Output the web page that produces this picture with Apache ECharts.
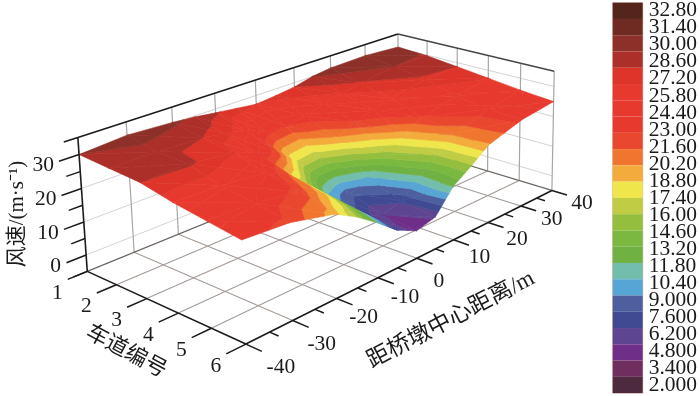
<!DOCTYPE html>
<html><head><meta charset="utf-8">
<style>html,body{margin:0;padding:0;background:#fff}#c{width:700px;height:396px}</style>
<script src="https://cdn.jsdelivr.net/npm/echarts@6/dist/echarts.min.js"></script>
</head><body><div id="c"></div>
<script>
// ---- data ----
const laneTicks = [1,2,3,4,5,6];
const distTicks = [-40,-30,-20,-10,0,10,20,30,40];
const speedTicks = [0,10,20,30];
const distSamples = [-40,-30,-20,-15,-10,-5,0,5,10,15,20,30,40];
const lane1 = [30.0,31.0,30.3,29.7,28.8,28.0,27.2,27.8,28.6,30.1,30.9,31.2,30.4];
const lane2 = [29.3,29.2,28.6,27.8,26.3,23.6,23.0,24.0,26.0,27.2,28.4,30.0,29.8];
const lane3 = [28.6,28.9,27.3,25.0,22.4,17.2,16.5,20.0,22.8,24.6,26.2,28.3,28.6];
const lane4 = [26.5,26.0,24.5,21.6,15.5,10.0,8.0,10.0,15.5,19.6,22.8,25.5,27.3];
const lane5 = [25.0,24.5,22.5,19.5,14.0,7.0,4.8,6.5,11.5,16.2,20.5,24.0,26.0];
const lane6 = [23.5,22.6,19.5,16.0,11.5,6.5,3.5,5.0,12.0,15.8,20.0,23.5,25.0];
const scaleLabels = ['32.80','31.40','30.00','28.60','27.20','25.80','24.40','23.00','21.60','20.20','18.80','17.40','16.00','14.60','13.20','11.80','10.40','9.000','7.600','6.200','4.800','3.400','2.000'];
const scaleColors = ['#55241c','#6f2b22','#8d3029','#ad2f29','#dd3529','#e8392e','#e8392e','#e8392e','#e9482e','#f0762f','#f3ab3b','#efe64b','#c0cd44','#94bf3e','#7ab83f','#70b143','#72bdab','#57a5d4','#4d5f9f','#3f4a93','#5d4591','#6f2f88','#702e5e','#4d2a3e'];
const lanes = [lane1,lane2,lane3,lane4,lane5,lane6];

// ---- camera: fitted to the corners of the 3D axis box ----
const zMin=-5, zMax=35;
const boxFit = [
  [0,0,0, 87,270],[0,1,0,246,345],[1,1,0,552,189],[1,0,0,399,146],
  [0,0,1, 78,138],[1,0,1,398,33],[1,1,1,554,72]
];
function solve(A,b){const n=b.length;const M=A.map((r,i)=>r.concat(b[i]));
  for(let i=0;i<n;i++){let p=i;for(let k=i+1;k<n;k++)if(Math.abs(M[k][i])>Math.abs(M[p][i]))p=k;[M[i],M[p]]=[M[p],M[i]];
    for(let k=0;k<n;k++){if(k===i)continue;const f=M[k][i]/M[i][i];for(let c=i;c<=n;c++)M[k][c]-=f*M[i][c];}}
  return M.map((r,i)=>r[n]/r[i]);}
const cam=(function(){const R=[],S=[];
  boxFit.forEach(([u,v,w,sx,sy])=>{
    R.push([u,v,w,1,0,0,0,0,-sx*u,-sx*v,-sx*w]);S.push(sx);
    R.push([0,0,0,0,u,v,w,1,-sy*u,-sy*v,-sy*w]);S.push(sy);});
  const N=R[0].length,A=[],b=[];
  for(let i=0;i<N;i++){A.push([]);let s=0;for(let j=0;j<N;j++){let t=0;R.forEach(r=>t+=r[i]*r[j]);A[i].push(t);}
    R.forEach((r,k)=>s+=r[i]*S[k]);b.push(s);}
  return solve(A,b);})();
function project(dist,lane,speed){
  const u=(dist+40)/80,v=(lane-1)/5,w=(speed-zMin)/(zMax-zMin);
  const d=cam[8]*u+cam[9]*v+cam[10]*w+1;
  return [(cam[0]*u+cam[1]*v+cam[2]*w+cam[3])/d,(cam[4]*u+cam[5]*v+cam[6]*w+cam[7])/d];
}

// ---- contour bands of the surface ----
const bounds=scaleLabels.map(Number).reverse(); // ascending 2.0 .. 32.8
function colorOf(idx){return scaleColors[scaleColors.length-1-idx];}
function clip(poly,val,keepAbove){const out=[];
  for(let i=0;i<poly.length;i++){const a=poly[i],b=poly[(i+1)%poly.length];
    const ia=keepAbove?a[2]>=val:a[2]<=val, ib=keepAbove?b[2]>=val:b[2]<=val;
    if(ia)out.push(a);
    if(ia!==ib){const t=(val-a[2])/(b[2]-a[2]);out.push([a[0]+t*(b[0]-a[0]),a[1]+t*(b[1]-a[1]),val]);}}
  return out;}
const bands=[];
function addTri(tri){
  for(let k=0;k<=bounds.length;k++){
    let p=tri;
    if(k>0)p=clip(p,bounds[k-1],true);
    if(p.length&&k<bounds.length)p=clip(p,bounds[k],false);
    if(p.length>=3)bands.push({pts:p,color:colorOf(k)});
  }
}
for(let j=distSamples.length-2;j>=0;j--){
  for(let i=0;i<lanes.length-1;i++){
    const P=(a,b)=>[distSamples[b],laneTicks[a],lanes[a][b]];
    addTri([P(i,j+1),P(i,j),P(i+1,j+1)]);
    addTri([P(i,j),P(i+1,j),P(i+1,j+1)]);
  }
}

// ---- box, grid lines, ticks ----
const F=zMin,T=zMax,L0=1,L1=6,X0=-40,X1=40;
const wall=[],floorLines=[],edges=[];
speedTicks.forEach(z=>{wall.push({a:[X0,L0,z],b:[X1,L0,z],c:'#d6d2d2',w:1});wall.push({a:[X1,L0,z],b:[X1,L1,z],c:'#d6d2d2',w:1});});
distTicks.forEach(x=>{if(x>X0)wall.push({a:[x,L0,F],b:[x,L0,T],c:'#a9a5a5',w:1.2});});
laneTicks.forEach(l=>{if(l>L0)wall.push({a:[X1,l,F],b:[X1,l,T],c:'#a9a5a5',w:1.2});});
laneTicks.forEach(l=>{if(l>L0&&l<L1)floorLines.push({a:[X0,l,F],b:[X1,l,F],c:'#a39b97',w:1.1});});
distTicks.forEach(x=>{if(x>X0&&x<X1)floorLines.push({a:[x,L0,F],b:[x,L1,F],c:'#a39b97',w:1.1});});
floorLines.push({a:[X0,L0,F],b:[X1,L0,F],c:'#6b6563',w:1.2});
floorLines.push({a:[X1,L0,F],b:[X1,L1,F],c:'#6b6563',w:1.2});
const ink='#1c1a1a';
edges.push({a:[X0,L0,F],b:[X0,L0,T],c:ink,w:1.6});
edges.push({a:[X0,L0,T],b:[X1,L0,T],c:ink,w:1.6});
edges.push({a:[X1,L0,T],b:[X1,L1,T],c:'#4a4545',w:1.5});
edges.push({a:[X0,L0,F],b:[X0,L1,F],c:ink,w:1.6});
edges.push({a:[X0,L1,F],b:[X1,L1,F],c:ink,w:1.6});
laneTicks.forEach(l=>edges.push({a:[X0,l,F],b:[X0-4,l,F],c:ink,w:1.5}));
distTicks.forEach(x=>edges.push({a:[x,L1,F],b:[x,L1+0.45,F],c:ink,w:1.5}));
distTicks.slice(0,-1).forEach(x=>edges.push({a:[x+5,L1,F],b:[x+5,L1+0.25,F],c:ink,w:1.5}));
speedTicks.forEach(z=>edges.push({a:[X0,L0,z],b:[X0-4,L0,z],c:ink,w:1.5}));
[-5,5,15,25,35].forEach(z=>edges.push({a:[X0,L0,z],b:[X0-2.8,L0,z],c:ink,w:1.5}));

const serif="'Liberation Serif','Noto Sans CJK SC',serif";
const texts=[];
const distNudgeX=[35,29,27,27,22,26,29,31,30];
const distNudgeY=[23,24,19,20,23,18,17,13,13];
laneTicks.forEach(l=>texts.push({at:[X0,l,F],dx:-30,dy:22,t:String(l)}));
distTicks.forEach((x,i)=>texts.push({at:[x,L1,F],dx:distNudgeX[i],dy:distNudgeY[i],t:String(x)}));
speedTicks.forEach(z=>texts.push({at:[X0,L0,z],dx:-25,dy:11,t:String(z),align:'right'}));
texts.push({sx:17,sy:214,t:'风速/(m·s⁻¹)',rot:90,size:21});
texts.push({sx:126,sy:352,t:'车道编号',rot:-28,size:22});
texts.push({sx:451,sy:320,t:'距桥墩中心距离/m',rot:27.6,size:23});

const lineRender=(list)=>(params,api)=>{
  const e=list[params.dataIndex];
  const a=api.coord(project(...e.a)),b=api.coord(project(...e.b));
  return {type:'line',shape:{x1:a[0],y1:a[1],x2:b[0],y2:b[1]},style:{stroke:e.c,lineWidth:e.w,lineCap:'butt'}};
};
const idx=(list)=>list.map((_,i)=>[i,i]);
const base={type:'custom',coordinateSystem:'cartesian2d',xAxisIndex:0,yAxisIndex:0,silent:true,animation:false,clip:false,progressive:0};

const chart=echarts.init(document.getElementById('c'),null,{renderer:'canvas'});
chart.setOption({
  animation:false,backgroundColor:'#fff',
  grid:[
    {left:0,top:0,width:700,height:396,show:false},
    {left:612.7,top:2.7,width:30,height:390.4,show:true,borderColor:'#d8b8ac',borderWidth:1,backgroundColor:'transparent'},
    {left:612.7,top:8.3,width:30,height:379.7,show:false}
  ],
  xAxis:[
    {gridIndex:0,type:'value',min:0,max:700,show:false},
    {gridIndex:1,type:'value',min:0,max:1,show:false},
    {gridIndex:2,type:'value',min:0,max:1,show:false}
  ],
  yAxis:[
    {gridIndex:0,type:'value',min:0,max:396,inverse:true,show:false},
    {gridIndex:1,type:'category',inverse:true,show:false,data:scaleColors.map((_,i)=>i)},
    {gridIndex:2,type:'category',inverse:true,boundaryGap:false,position:'right',data:scaleLabels,
     axisLine:{show:false},axisTick:{show:false},
     axisLabel:{interval:0,margin:7,fontFamily:serif,fontSize:21.5,color:'#1c1a1a',hideOverlap:false}}
  ],
  series:[
    Object.assign({},base,{z:1,data:idx(wall),renderItem:lineRender(wall)}),
    Object.assign({},base,{z:2,data:idx(floorLines),renderItem:lineRender(floorLines)}),
    Object.assign({},base,{z:3,data:idx(bands),renderItem:(p,api)=>{
      const b=bands[p.dataIndex];
      return {type:'polygon',shape:{points:b.pts.map(q=>api.coord(project(q[0],q[1],q[2])))},style:{fill:b.color,stroke:b.color,lineWidth:0.6}};
    }}),
    Object.assign({},base,{z:4,data:idx(edges),renderItem:lineRender(edges)}),
    Object.assign({},base,{z:5,data:idx(texts),renderItem:(p,api)=>{
      const e=texts[p.dataIndex];
      const c=e.at?api.coord(project(...e.at)):api.coord([e.sx,e.sy]);
      return {type:'text',x:c[0]+(e.dx||0),y:c[1]+(e.dy||0),rotation:(e.rot||0)*Math.PI/180,
        style:{text:e.t,font:(e.size||21.5)+'px '+serif,fill:'#1c1a1a',align:e.align||'center',verticalAlign:'middle'}};
    }}),
    {type:'bar',xAxisIndex:1,yAxisIndex:1,barWidth:'100%',silent:true,animation:false,
     data:scaleColors.map(c=>({value:1,itemStyle:{color:c}}))}
  ]
});
</script></body></html>
